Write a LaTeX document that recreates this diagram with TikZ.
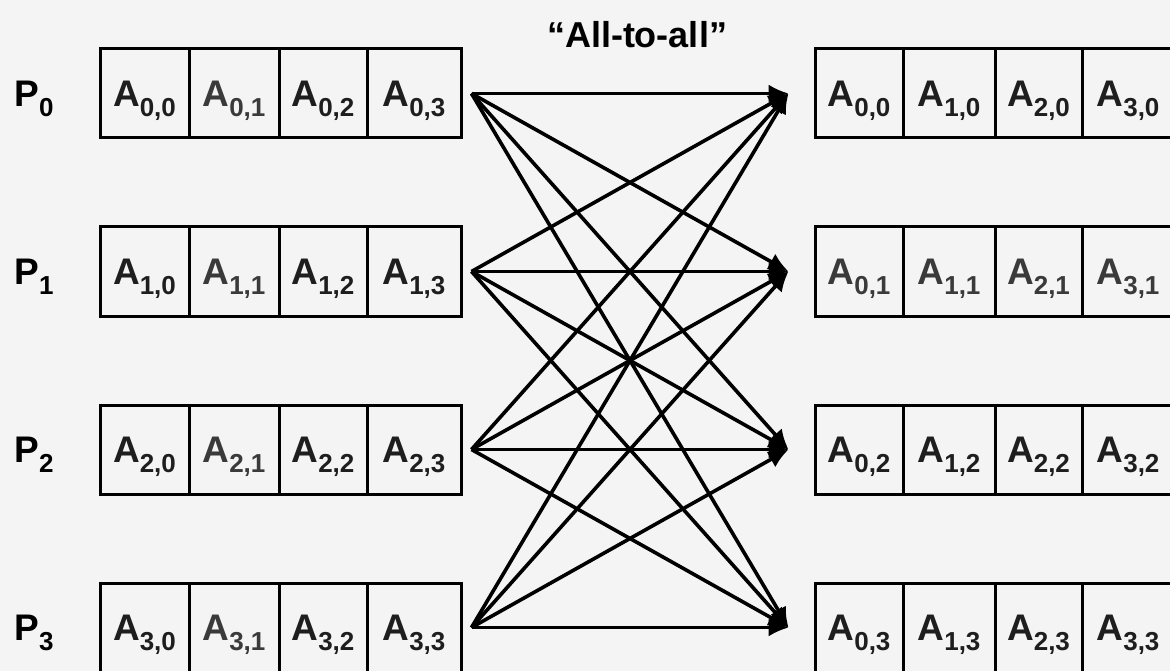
\documentclass[tikz,border=0pt]{standalone}
\usepackage{fontspec}
\setmainfont{Liberation Sans}
\usetikzlibrary{arrows.meta,calc}
\definecolor{bg}{HTML}{F4F4F4}
\definecolor{ink}{HTML}{1E1E1E}
\definecolor{inklight}{HTML}{3A3A3A}
\newcommand\sbs[1]{\raisebox{-0.27em}{\fontsize{26}{26}\selectfont #1}}
\begin{document}
\begin{tikzpicture}[x=1pt,y=-1pt,
  cell/.style={draw=black, line width=3pt, minimum height=89pt, inner sep=0pt,
    text height=26.5pt, text depth=0pt, font=\fontsize{37}{37}\selectfont\bfseries, text=ink},
  plabel/.style={inner sep=0pt, text height=26.5pt, text depth=0pt,
    font=\fontsize{37}{37}\selectfont\bfseries, text=black},
  conn/.style={line width=3.6pt, -{Latex[length=20pt,width=18pt]}},
  hconn/.style={line width=2.5pt, -{Latex[length=20pt,width=18pt]}},
  titlestyle/.style={inner sep=0pt, anchor=base, font=\fontsize{36}{36}\selectfont\bfseries}
]
\useasboundingbox (0,0) rectangle (1170,671);
\clip (0,0) rectangle (1170,671);
\fill[bg] (0,0) rectangle (1170,671);

\node[titlestyle] (title) at (637,48) {“All-to-all”};

\foreach \r in {0,...,3} {
  \node[plabel] (P\r) at (34,{93.5+178*\r}) {P\sbs{\r}};
  \foreach \c/\xa/\xb in {0/100/189,1/189/279,2/279/367,3/367/461} {
    \ifnum\c=1 \def\tc{inklight}\else\def\tc{ink}\fi
    \node[cell, text=\tc, minimum width=\xb pt-\xa pt] (L\r\c) at ({(\xa+\xb)/2},{93.5+178*\r}) {A\sbs{\r,\c}};
  }
  \foreach \c/\xa/\xb in {0/815/903,1/903/995,2/995/1082,3/1082/1174} {
    \ifnum\r=1 \def\tc{inklight}\else\def\tc{ink}\fi
    \node[cell, text=\tc, minimum width=\xb pt-\xa pt] (R\r\c) at ({(\xa+\xb)/2},{93.5+178*\r}) {A\sbs{\c,\r}};
  }
  \coordinate (s\r) at ($(L\r3.east)+(9,0)$);
  \coordinate (t\r) at ($(R\r0.west)+(-25,0)$);
}

\foreach \i in {0,...,3} {
  \foreach \j in {0,...,3} {
    \ifnum\i=\j
      \draw[hconn] (s\i) -- (t\j);
    \else
      \draw[conn] (s\i) -- (t\j);
    \fi
  }
}
\end{tikzpicture}
\end{document}
